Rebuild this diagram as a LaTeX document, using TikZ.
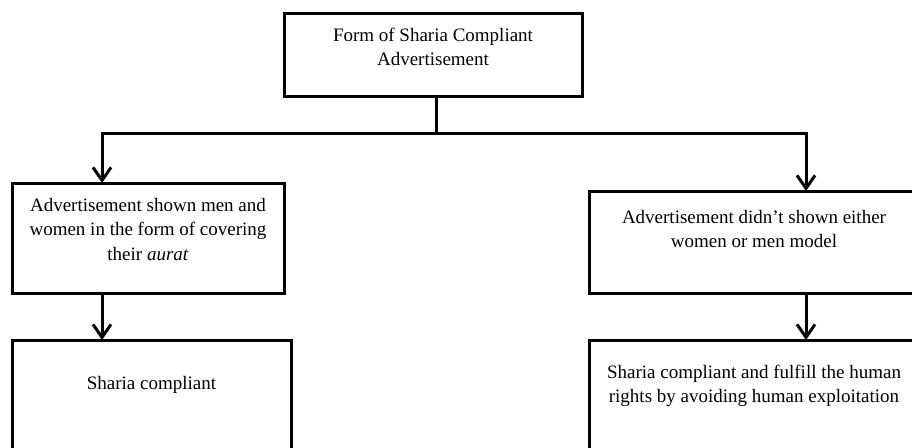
\documentclass[tikz,border=0pt]{standalone}
\usepackage{fontspec}
\setmainfont{Liberation Serif}
\usetikzlibrary{arrows.meta}
\newcommand{\boxtext}[4]{\parbox[c][#2][t]{#1}{\centering\vspace*{#3}\strut #4}}

\begin{document}
\begin{tikzpicture}[x=1pt,y=-1pt,
    box/.style={draw,line width=3pt,inner sep=0pt,outer sep=0pt,anchor=north west,
      font=\fontsize{19}{24.5}\selectfont},
    arr/.style={line width=3pt,-{Straight Barb[length=13pt,width=18pt]}}]
  \useasboundingbox (0,0) rectangle (912,447);
  \clip (0,0) rectangle (912,447);
  \node[box] (form) at (284,13) {\boxtext{298pt}{83pt}{11pt}{Form of Sharia Compliant\\Advertisement}};
  \node[box] (adv1) at (12,183) {\boxtext{272pt}{110pt}{11pt}{Advertisement shown men and\\women in the form of covering\\their \textit{aurat}}};
  \node[box] (adv2) at (589,191) {\boxtext{330pt}{102pt}{15pt}{Advertisement didn't shown either\\women or men model}};
  \node[box] (comp1) at (12,340) {\boxtext{279pt}{120pt}{32pt}{Sharia compliant}};
  \node[box] (comp2) at (589,340) {\boxtext{330pt}{120pt}{21pt}{Sharia compliant and fulfill the human\\rights by avoiding human exploitation}};
  \coordinate (split) at (436,133);
  \draw[line width=3pt] (form.south -| split) -- (split);
  \draw[arr] (split) -| ([xshift=-46pt]adv1.north);
  \draw[arr] (split) -| ([xshift=52pt]adv2.north);
  \draw[arr] ([xshift=-46pt]adv1.south) -- ([xshift=-49.5pt]comp1.north);
  \draw[arr] ([xshift=52pt]adv2.south) -- ([xshift=52pt]comp2.north);
\end{tikzpicture}
\end{document}
